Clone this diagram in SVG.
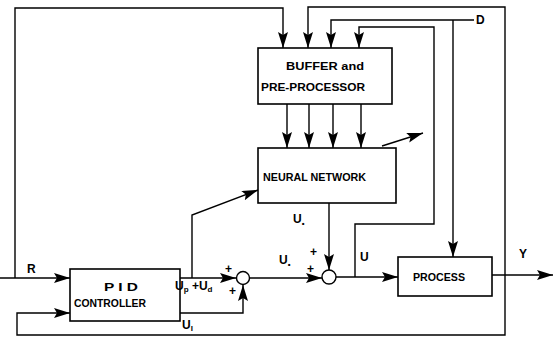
<svg xmlns="http://www.w3.org/2000/svg" width="553" height="347" viewBox="0 0 553 347">
<style>
.box{fill:#fff;stroke:#000;stroke-width:1.6}
.ln{fill:none;stroke:#000;stroke-width:1.4}
.arr{marker-end:url(#ah)}
text{font-family:"Liberation Sans",Arial,sans-serif;font-weight:bold;fill:#000}
.lb{font-size:11px}
.sm{font-size:12px}
.sub{font-size:8px}
</style>
<defs>
<marker id="ah" markerUnits="userSpaceOnUse" markerWidth="18" markerHeight="11" refX="16" refY="5" orient="auto">
<path d="M0,0 L16,5 L0,10 L3,5 Z" fill="#000"/>
</marker>
</defs>
<rect width="553" height="347" fill="#fff"/>
<g id="connectors">
<path class="ln arr" d="M0,278 H70"/>
<path class="ln arr" d="M15,278 V8 H283 V48"/>
<path class="ln arr" d="M492,275 H553"/>
<path class="ln arr" d="M505,275 V7 H308 V48"/>
<path class="ln arr" d="M505,275 V335 H17 V313 H70"/>
<path class="ln arr" d="M474,20 H331 V48"/>
<path class="ln arr" d="M453,20 V257"/>
<path class="ln arr" d="M355,277 V224 H434 V27 H359 V48"/>
<path class="ln arr" d="M287,104 V148"/>
<path class="ln arr" d="M309,104 V148"/>
<path class="ln arr" d="M333,104 V148"/>
<path class="ln arr" d="M361,104 V148"/>
<path class="ln arr" d="M382,146 L423,133"/>
<path class="ln arr" d="M329,203 V270"/>
<path class="ln arr" d="M180,278 H236"/>
<path class="ln arr" d="M192,278 V215 L258,190"/>
<path class="ln arr" d="M180,313 H243 V285"/>
<path class="ln arr" d="M250,278 H322"/>
<path class="ln arr" d="M336,277 H398"/>
</g>
<g id="sum1"><circle cx="243" cy="278" r="6.5" fill="#fff" stroke="#000" stroke-width="1.4"/></g>
<g id="sum2"><circle cx="329" cy="277" r="7" fill="#fff" stroke="#000" stroke-width="1.4"/></g>
<g id="buffer">
<rect class="box" x="258" y="48" width="134" height="56"/>
<text class="lb" x="286" y="70" textLength="78" lengthAdjust="spacingAndGlyphs">BUFFER  and</text>
<text class="lb" x="261" y="91" textLength="104" lengthAdjust="spacingAndGlyphs">PRE-PROCESSOR</text>
</g>
<g id="neural">
<rect class="box" x="258" y="148" width="138" height="55"/>
<text class="lb" x="263" y="181" textLength="103" lengthAdjust="spacingAndGlyphs">NEURAL NETWORK</text>
</g>
<g id="pid">
<rect class="box" x="70" y="269" width="110" height="52"/>
<text class="lb" x="104" y="291" textLength="34" lengthAdjust="spacingAndGlyphs">P I D</text>
<text class="lb" x="74" y="307" textLength="72" lengthAdjust="spacingAndGlyphs">CONTROLLER</text>
</g>
<g id="process">
<rect class="box" x="398" y="257" width="94" height="39"/>
<text class="lb" x="413" y="281" textLength="52" lengthAdjust="spacingAndGlyphs">PROCESS</text>
</g>
<g id="labels">
<text class="sm" x="27" y="273">R</text>
<text class="sm" x="476" y="24">D</text>
<text class="sm" x="519" y="258">Y</text>
<text class="sm" x="360" y="261">U</text>
<text class="sm" x="293" y="223">U<tspan class="sub" dy="3">•</tspan></text>
<text class="sm" x="279" y="264">U<tspan class="sub" dy="3">•</tspan></text>
<text class="sm" x="310" y="256">+</text>
<text class="sm" x="307" y="273">+</text>
<text class="sm" x="225" y="273">+</text>
<text class="sm" x="229" y="295">+</text>
<text class="sm" x="175" y="290">U<tspan class="sub" dy="2">p</tspan><tspan dy="-2"> +U</tspan><tspan class="sub" dy="2">d</tspan></text>
<text class="sm" x="182" y="329">U<tspan class="sub" dy="2">I</tspan></text>
</g>
</svg>
